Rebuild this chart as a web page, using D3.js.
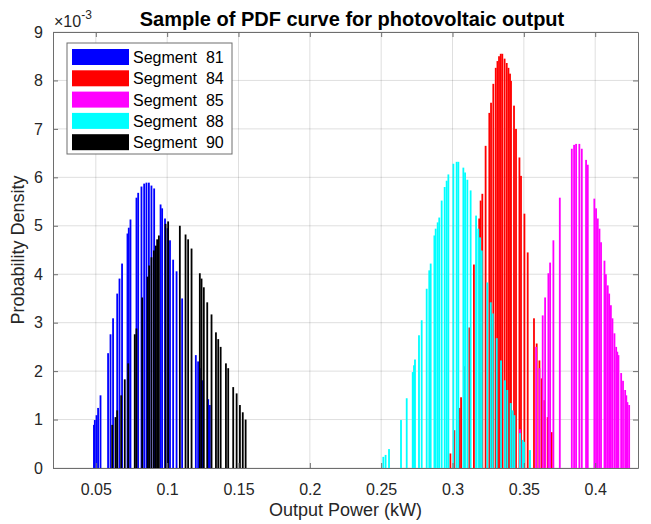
<!DOCTYPE html>
<html>
<head>
<meta charset="utf-8">
<script src="https://cdn.jsdelivr.net/npm/d3@7"></script>
<style>
  body { margin: 0; background: #fff; }
  text { font-family: "Liberation Sans", Arial, Helvetica, sans-serif; fill: #262626; }
</style>
</head>
<body>
<svg id="chart" width="651" height="524"></svg>
<script>
// bar positions (kW) and heights (x 1e-3)
const seg81X = [0.0487, 0.0493, 0.0505, 0.0516, 0.0533, 0.0586, 0.0603, 0.0621, 0.0650, 0.0666, 0.0684, 0.0722, 0.0731, 0.0743,
  0.0785, 0.0797, 0.0820, 0.0839, 0.0855, 0.0872, 0.0890, 0.0909, 0.0954, 0.0965, 0.0985, 0.1003, 0.1020, 0.1042, 0.1066,
  0.1105, 0.1201, 0.1217, 0.1229, 0.1245, 0.1288, 0.1299];
const seg81Y = [0.89, 0.99, 1.09, 1.24, 1.50, 2.37, 2.76, 3.09, 3.60, 3.91, 4.22, 4.84, 4.96, 5.13,
  5.58, 5.68, 5.81, 5.87, 5.89, 5.89, 5.83, 5.77, 5.44, 5.36, 5.15, 4.95, 4.70, 4.30, 4.06,
  3.50, 2.33, 2.20, 2.06, 1.81, 1.42, 1.30];

const seg84X = [0.2985, 0.3013, 0.3048, 0.3060, 0.3085, 0.3118, 0.3150, 0.3187, 0.3197, 0.3209, 0.3232, 0.3258, 0.3270,
  0.3286, 0.3303, 0.3315, 0.3326, 0.3338, 0.3349, 0.3365, 0.3380, 0.3392, 0.3403, 0.3410, 0.3431, 0.3445, 0.3469, 0.3480,
  0.3504, 0.3527, 0.3571, 0.3590, 0.3609, 0.3625, 0.3644, 0.3667, 0.3695];
const seg84Y = [0.30, 0.78, 1.24, 1.46, 2.10, 2.90, 4.20, 5.15, 5.52, 5.66, 6.65, 7.33, 7.54,
  7.93, 8.26, 8.40, 8.50, 8.55, 8.55, 8.45, 8.36, 8.26, 8.14, 7.99, 7.48, 7.00, 6.41, 6.03,
  5.25, 4.45, 3.09, 2.57, 2.22, 1.85, 1.40, 1.05, 0.74];

const seg85X = [0.3473, 0.3492, 0.3586, 0.3609, 0.3632, 0.3649, 0.3672, 0.3684, 0.3707, 0.3752, 0.3836, 0.3852, 0.3866,
  0.3889, 0.3906, 0.3936, 0.3948, 0.3994, 0.4006, 0.4018, 0.4030, 0.4041, 0.4065, 0.4075, 0.4088, 0.4098, 0.4110, 0.4121,
  0.4135, 0.4147, 0.4155, 0.4163, 0.4182, 0.4195, 0.4210, 0.4218, 0.4226, 0.4238];
const seg85Y = [0.80, 0.50, 2.50, 2.06, 3.15, 3.52, 4.02, 4.24, 4.70, 5.58, 6.59, 6.67, 6.69,
  6.69, 6.59, 6.36, 6.26, 5.56, 5.36, 5.15, 4.94, 4.66, 4.28, 4.00, 3.77, 3.60, 3.36, 3.09,
  2.78, 2.50, 2.40, 2.33, 1.96, 1.80, 1.61, 1.50, 1.36, 1.30];

const seg88X = [0.2515, 0.2531, 0.2555, 0.2639, 0.2679, 0.2721, 0.2730, 0.2737, 0.2765, 0.2784, 0.2819, 0.2837, 0.2847,
  0.2873, 0.2882, 0.2896, 0.2907, 0.2924, 0.2945, 0.2959, 0.2971, 0.3006, 0.3029, 0.3041, 0.3076, 0.3088, 0.3104, 0.3127,
  0.3165, 0.3181, 0.3193, 0.3205, 0.3244, 0.3268, 0.3282, 0.3310, 0.3340, 0.3368, 0.3384, 0.3408, 0.3422, 0.3434, 0.3473,
  0.3492, 0.3501, 0.3543];
const seg88Y = [0.23, 0.27, 0.39, 0.99, 1.44, 1.98, 2.12, 2.24, 2.74, 3.05, 3.70, 4.08, 4.22,
  4.80, 4.94, 5.07, 5.17, 5.52, 5.80, 5.93, 6.06, 6.28, 6.32, 6.32, 6.20, 6.10, 5.95, 5.73,
  5.21, 4.94, 4.76, 4.49, 3.83, 3.42, 3.19, 2.68, 2.22, 1.81, 1.61, 1.34, 1.19, 1.09, 0.72,
  0.58, 0.54, 0.37];

const seg90X = [0.0615, 0.0638, 0.0650, 0.0678, 0.0703, 0.0727, 0.0773, 0.0785, 0.0825, 0.0863, 0.0874, 0.0890, 0.0907,
  0.0921, 0.0930, 0.0942, 0.0989, 0.1007, 0.1089, 0.1129, 0.1147, 0.1171, 0.1229, 0.1241, 0.1257, 0.1281, 0.1311, 0.1342,
  0.1358, 0.1375, 0.1412, 0.1428, 0.1463, 0.1487, 0.1510, 0.1530, 0.1550];
const seg90Y = [0.89, 1.05, 1.19, 1.50, 1.83, 2.16, 2.76, 2.88, 3.52, 3.95, 4.18, 4.35, 4.49,
  4.59, 4.72, 4.80, 5.04, 5.09, 5.00, 4.82, 4.72, 4.53, 4.02, 3.91, 3.73, 3.42, 3.17, 2.80,
  2.66, 2.50, 2.16, 2.06, 1.67, 1.54, 1.30, 1.15, 1.00];

const segNames = ['Segment  81', 'Segment  84', 'Segment  85', 'Segment  88', 'Segment  90'];
const segColors = ['#0000ff', '#ff0000', '#ff00ff', '#00ffff', '#000000'];
const xTicks = [0.05, 0.1, 0.15, 0.2, 0.25, 0.3, 0.35, 0.4];
const yTicks = [0, 1, 2, 3, 4, 5, 6, 7, 8, 9];

const series = [
  [seg81X, seg81Y], [seg84X, seg84Y], [seg85X, seg85Y], [seg88X, seg88Y], [seg90X, seg90Y]
].map((s, i) => ({
  name: segNames[i],
  color: segColors[i],
  bars: s[0].map((v, j) => ({x: v, y: s[1][j]}))
}));

const svg = d3.select('#chart');
const plotLeft = 53, plotRight = 638, plotTop = 32, plotBottom = 468;

const x = d3.scaleLinear().domain([0.02, 0.43]).range([plotLeft, plotRight]);
const y = d3.scaleLinear().domain([0, 9]).range([plotBottom, plotTop]);

// grid
svg.append('g')
  .selectAll('line')
  .data(xTicks)
  .enter()
  .append('line')
  .attr('x1', d => x(d)).attr('x2', d => x(d))
  .attr('y1', plotTop).attr('y2', plotBottom)
  .attr('stroke', '#262626').attr('stroke-opacity', 0.15);

svg.append('g')
  .selectAll('line')
  .data(yTicks)
  .enter()
  .append('line')
  .attr('x1', plotLeft).attr('x2', plotRight)
  .attr('y1', d => y(d)).attr('y2', d => y(d))
  .attr('stroke', '#262626').attr('stroke-opacity', 0.15);

// bars
series.forEach(s => {
  svg.append('g')
    .selectAll('rect')
    .data(s.bars)
    .enter()
    .append('rect')
    .attr('x', d => x(d.x) - 0.9)
    .attr('width', 1.8)
    .attr('y', d => y(d.y))
    .attr('height', d => y(0) - y(d.y))
    .attr('fill', s.color);
});

// axes, ticks inward
const axB = svg.append('g').attr('transform', `translate(0,${plotBottom})`)
  .call(d3.axisBottom(x).tickValues(xTicks).tickFormat(d3.format('')).tickSizeInner(-5).tickSizeOuter(0).tickPadding(16));
const axL = svg.append('g').attr('transform', `translate(${plotLeft},0)`)
  .call(d3.axisLeft(y).tickValues(yTicks).tickSizeInner(-5).tickSizeOuter(0).tickPadding(10));
const axT = svg.append('g').attr('transform', `translate(0,${plotTop})`)
  .call(d3.axisTop(x).tickValues(xTicks).tickFormat('').tickSizeInner(-5).tickSizeOuter(0));
const axR = svg.append('g').attr('transform', `translate(${plotRight},0)`)
  .call(d3.axisRight(y).tickValues(yTicks).tickFormat('').tickSizeInner(-5).tickSizeOuter(0));

[axB, axL, axT, axR].forEach(a => {
  a.select('.domain').attr('stroke', '#6e6e6e');
  a.selectAll('.tick line').attr('stroke', '#6e6e6e');
  a.selectAll('.tick text').attr('font-size', 16).attr('fill', '#262626')
    .style('font-family', '"Liberation Sans", Arial, sans-serif');
});

// exponent label
const ex = svg.append('text').attr('x', 54).attr('y', 27).attr('font-size', 16);
ex.append('tspan').text('×10');
ex.append('tspan').attr('dy', -8).attr('font-size', 12).text('-3');

// title and labels
svg.append('text')
  .attr('x', 352).attr('y', 26)
  .attr('text-anchor', 'middle').attr('font-size', 20).attr('font-weight', 'bold')
  .style('fill', '#000')
  .text('Sample of PDF curve for photovoltaic output');

svg.append('text')
  .attr('x', (plotLeft + plotRight) / 2).attr('y', 516)
  .attr('text-anchor', 'middle').attr('font-size', 18)
  .text('Output Power (kW)');

svg.append('text')
  .attr('transform', 'translate(24,250) rotate(-90)')
  .attr('text-anchor', 'middle').attr('font-size', 18)
  .text('Probability Density');

// legend
const lg = svg.append('g');
lg.append('rect')
  .attr('x', 67).attr('y', 43).attr('width', 165).attr('height', 111)
  .attr('fill', '#fff').attr('stroke', '#6e6e6e');

const rows = lg.selectAll('g')
  .data(series)
  .enter()
  .append('g')
  .attr('transform', (d, i) => `translate(0,${57 + i * 21.3})`);

rows.append('rect')
  .attr('x', 72).attr('y', -8).attr('width', 57).attr('height', 16)
  .attr('fill', d => d.color);

rows.append('text')
  .attr('x', 133).attr('y', 6)
  .attr('font-size', 16)
  .style('white-space', 'pre')
  .style('fill', '#000')
  .text(d => d.name);
</script>
</body>
</html>
